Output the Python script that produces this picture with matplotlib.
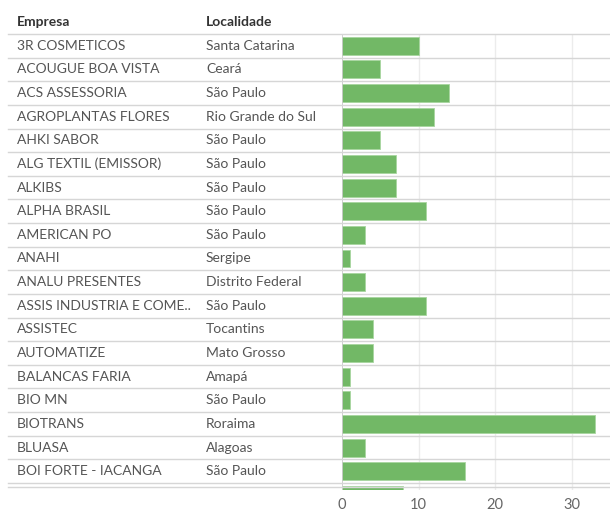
import matplotlib.pyplot as plt
import matplotlib.transforms as mtransforms

empresas = ["3R COSMETICOS", "ACOUGUE BOA VISTA", "ACS ASSESSORIA", "AGROPLANTAS FLORES",
            "AHKI SABOR", "ALG TEXTIL (EMISSOR)", "ALKIBS", "ALPHA BRASIL", "AMERICAN PO",
            "ANAHI", "ANALU PRESENTES", "ASSIS INDUSTRIA E COME..", "ASSISTEC", "AUTOMATIZE",
            "BALANCAS FARIA", "BIO MN", "BIOTRANS", "BLUASA", "BOI FORTE - IACANGA", ""]
localidades = ["Santa Catarina", "Ceará", "São Paulo", "Rio Grande do Sul", "São Paulo",
               "São Paulo", "São Paulo", "São Paulo", "São Paulo", "Sergipe", "Distrito Federal",
               "São Paulo", "Tocantins", "Mato Grosso", "Amapá", "São Paulo", "Roraima",
               "Alagoas", "São Paulo", ""]
valores = [10, 5, 14, 12, 5, 7, 7, 11, 3, 1, 3, 11, 4, 4, 1, 1, 33, 3, 16, 8]
x_ticks = [0, 10, 20, 30]

plt.rcParams['font.family'] = ['Lato', 'DejaVu Sans']

fig = plt.figure(figsize=(6.10, 5.13), dpi=100)
ax = fig.add_axes([342 / 610, (513 - 490) / 513, 268 / 610, (490 - 34) / 513])

pos = list(range(len(valores)))
ax.barh(pos, valores, height=0.76, color='#72b866', edgecolor='#a8d69f', linewidth=0.6, zorder=3)

ax.set_xlim(0, 35)
ax.set_ylim(18.5 + 7 / 23.6, -0.5)
ax.set_xticks(x_ticks)
ax.tick_params(axis='x', length=0, colors='#666666', labelsize=10.5, pad=6)
ax.set_yticks([])
for s in ax.spines.values():
    s.set_visible(False)
for t in x_ticks[1:]:
    ax.axvline(t, color='#ececec', lw=1, zorder=1)
ax.axvline(0, color='#c8c8c8', lw=1.2, zorder=4)

# table rows and separators
trans = mtransforms.blended_transform_factory(fig.transFigure, ax.transData)
for i in range(19):
    ax.text(17 / 610, i, empresas[i], transform=trans, fontsize=10, color='#555555', va='center')
    ax.text(206 / 610, i, localidades[i], transform=trans, fontsize=10, color='#555555', va='center')
xmin = -334 / 268
for i in range(19):
    ax.axhline(i - 0.5, xmin=xmin, xmax=1, color='#d6d6d6', lw=1, clip_on=False, zorder=5)
ax.axhline(18.5 + 4 / 23.6, xmin=xmin, xmax=1, color='#d6d6d6', lw=1, clip_on=False, zorder=5)
ax.axhline(18.5, xmin=xmin, xmax=1, color='#d6d6d6', lw=1, clip_on=False, zorder=5)

fig.text(17 / 610, 1 - 22 / 513, "Empresa", fontsize=10, color='#333333', fontweight='bold', va='center')
fig.text(206 / 610, 1 - 22 / 513, "Localidade", fontsize=10, color='#333333', fontweight='bold', va='center')

fig.savefig('out.png', dpi=100)
